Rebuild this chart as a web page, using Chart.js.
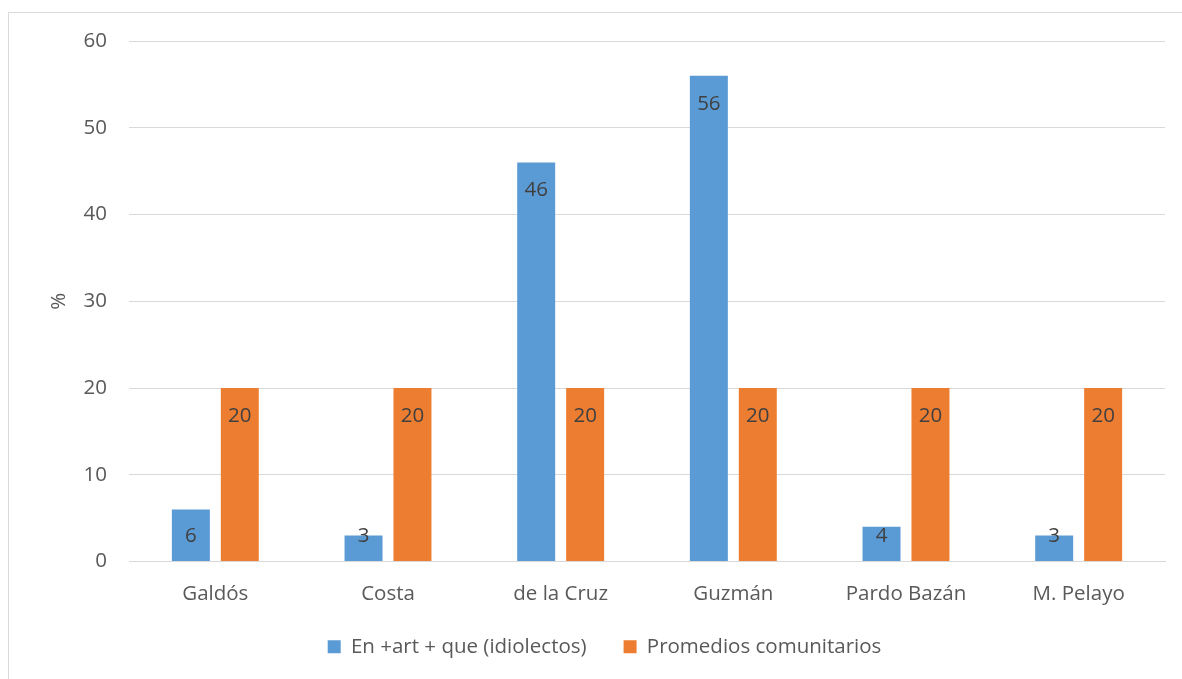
<!DOCTYPE html>
<html>
<head>
<meta charset="utf-8">
<script src="https://cdn.jsdelivr.net/npm/chart.js@4.4.1/dist/chart.umd.min.js"></script>
<style>
  html, body { margin: 0; padding: 0; background: #fff; overflow: hidden; }
  #frame { position: absolute; left: 8px; top: 12px; width: 1300px; height: 800px; border: 1px solid #d9d9d9; }
  #wrap { position: absolute; left: 0; top: 0; width: 1182px; height: 679px; }
</style>
</head>
<body>
<div id="frame"></div>
<div id="wrap"><canvas id="chart_canvas"></canvas></div>
<script>
const categories = ['Galdós', 'Costa', 'de la Cruz', 'Guzmán', 'Pardo Bazán', 'M. Pelayo'];
const idiolectos = [6, 3, 46, 56, 4, 3];
const promedios = [20, 20, 20, 20, 20, 20];
const seriesNames = ['En +art + que (idiolectos)', 'Promedios comunitarios'];
const yTicks = [0, 10, 20, 30, 40, 50, 60];

const FONT = "'Open Sans', 'DejaVu Sans', sans-serif";
const FSIZE = 20.5;

// labels inside the end of each bar, like the spreadsheet did
const barLabels = {
    id: 'barLabels',
    afterLayout(chart) {
        // x labels get clipped to the axis box, let them run lower
        chart.scales.x.bottom += 30;
        // legend sits a bit right of centre in the original
        chart.legend.left += 22;
        chart.legend.right += 22;
    },
    afterDatasetsDraw(chart) {
        const c = chart.ctx;
        c.save();
        c.font = FSIZE + 'px ' + FONT;
        c.fillStyle = '#404040';
        c.textAlign = 'center';
        c.textBaseline = 'middle';
        chart.data.datasets.forEach(function (ds, i) {
            chart.getDatasetMeta(i).data.forEach(function (bar, j) {
                let y = Math.min(bar.y + 28, bar.base - 25);
                c.fillText(String(ds.data[j]), bar.x, y);
            });
        });
        c.restore();
    }
};

const ctx = document.getElementById('chart_canvas');
new Chart(ctx, {
    type: 'bar',
    data: {
        labels: categories,
        datasets: [{
            label: seriesNames[0],
            data: idiolectos,
            backgroundColor: '#5B9BD5',
            barPercentage: 0.776,
            categoryPercentage: 0.567
        }, {
            label: seriesNames[1],
            data: promedios,
            backgroundColor: '#ED7D31',
            barPercentage: 0.776,
            categoryPercentage: 0.567
        }]
    },
    options: {
        responsive: true,
        maintainAspectRatio: false,
        animation: false,
        layout: { padding: { top: 41, right: 17, left: 0, bottom: 12 } },
        plugins: {
            tooltip: { enabled: false },
            legend: {
                position: 'bottom',
                labels: {
                    font: { family: FONT, size: FSIZE },
                    color: '#595959',
                    boxWidth: 13,
                    boxHeight: 13,
                    padding: 37
                }
            }
        },
        scales: {
            x: {
                grid: { display: false },
                border: { color: '#d9d9d9', width: 1 },
                ticks: { font: { family: FONT, size: FSIZE }, color: '#595959', padding: 12 },
                afterFit: function (s) { s.height = 38; }
            },
            y: {
                min: 0,
                max: 60,
                afterBuildTicks: function (s) { s.ticks = yTicks.map(v => ({ value: v })); },
                grid: { color: '#d9d9d9', drawTicks: false },
                border: { display: false },
                ticks: { font: { family: FONT, size: FSIZE }, color: '#595959', padding: 22 },
                title: {
                    display: true,
                    text: '%',
                    font: { family: FONT, size: FSIZE },
                    color: '#595959',
                    padding: { top: 47, bottom: 0 }
                },
                afterFit: function (s) { s.width = 129; }
            }
        }
    },
    plugins: [barLabels]
});
</script>
</body>
</html>
